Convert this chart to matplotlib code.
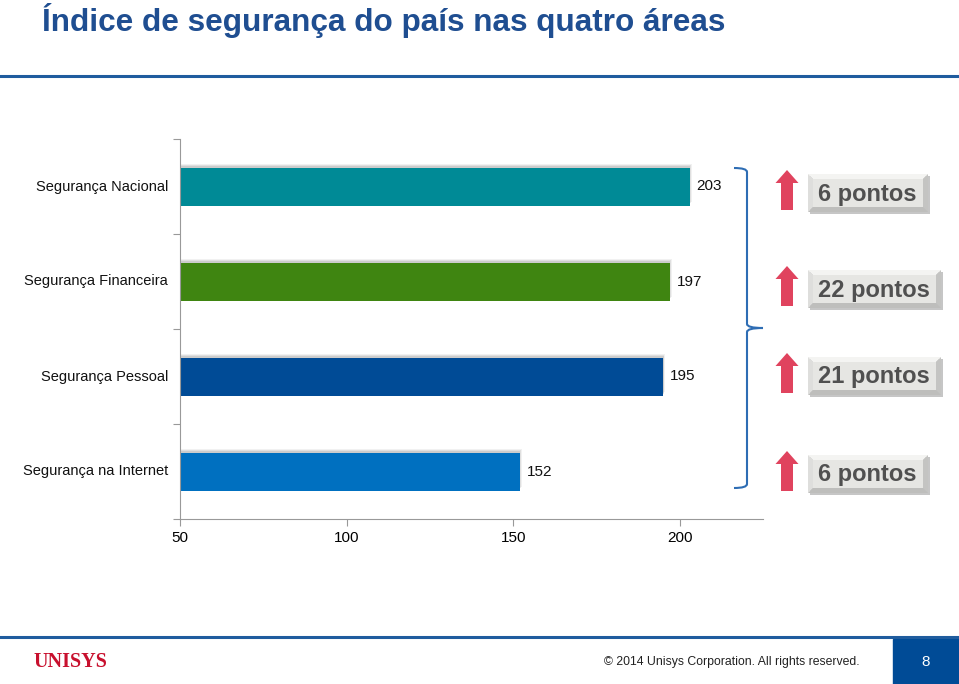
import matplotlib
matplotlib.use("Agg")
import matplotlib.pyplot as plt
from matplotlib.patches import Rectangle, PathPatch, Polygon
from matplotlib.path import Path
import matplotlib.transforms as mtrans

plt.rcParams['font.family'] = ['Liberation Sans', 'DejaVu Sans']

categories = ["Segurança Nacional", "Segurança Financeira", "Segurança Pessoal", "Segurança na Internet"]
values = [203, 197, 195, 152]
increase = ["6 pontos", "22 pontos", "21 pontos", "6 pontos"]
colors = ["#008A96", "#3F8511", "#004B96", "#0070C0"]
xticks = [50, 100, 150, 200]
title = "Índice de segurança do país nas quatro áreas"

W, H = 959, 684
fig = plt.figure(figsize=(W / 100, H / 100), dpi=100)

def fx(px):
    return px / W

def fy(py):
    return 1 - py / H

ax = fig.add_axes([fx(180), fy(519), fx(763) - fx(180), fy(139) - fy(519)])
ypos = list(range(len(categories)))
ax.set_xlim(50, 225)
ax.set_ylim(len(categories) - 0.5, -0.5)

# soft shadows
for y, v in zip(ypos, values):
    for k, a in enumerate([0.10, 0.14, 0.18]):
        d = 0.035 - k * 0.01
        ax.barh(y - d, v - 50 + 0.6 - k * 0.2, left=50, height=0.4, color="#777777",
                alpha=a, zorder=1, lw=0)
ax.barh(ypos, [v - 50 for v in values], left=50, height=0.4, color=colors, zorder=2)
for y, v in zip(ypos, values):
    ax.text(v + 2, y, str(v), va="center", ha="left", fontsize=11, color="#111111")

ax.set_yticks([y + 0.5 for y in [-1] + ypos])
ax.set_yticklabels([])
ax.tick_params(axis="y", length=5, direction="out", color="#999999")
lab_tr = mtrans.blended_transform_factory(ax.transAxes, ax.transData)
for y, c in zip(ypos, categories):
    ax.text(-12 / 583, y, c, transform=lab_tr, ha="right", va="center", fontsize=10.5, color="#111111")
ax.set_xticks(xticks)
ax.set_xticklabels([str(t) for t in xticks], fontsize=11)
ax.tick_params(axis="x", length=5, direction="out", color="#999999", pad=4)
for s in ["top", "right"]:
    ax.spines[s].set_visible(False)
for s in ["left", "bottom"]:
    ax.spines[s].set_color("#999999")

# title and rules
fig.text(fx(42), fy(20), title, fontsize=22.7, fontweight="bold", color="#1F4E91",
         ha="left", va="center")
fig.add_artist(plt.Line2D([0, 1], [fy(76), fy(76)], color="#1F5C9E", lw=2.2))
fig.add_artist(plt.Line2D([0, 1], [fy(637), fy(637)], color="#1F5C9E", lw=2.2))
fig.add_artist(Rectangle((fx(893), 0), 1 - fx(893), fy(639), color="#004B96"))
fig.text(fx(926), fy(662), "8", color="white", fontsize=11, ha="center", va="center")
fig.text(fx(860), fy(662), "© 2014 Unisys Corporation. All rights reserved.", fontsize=8.8,
         ha="right", va="center", color="#222222")
fig.text(fx(33), fy(662), "UNISYS", fontsize=14.5, fontweight="bold", family="Liberation Serif",
         color="#C8102E", ha="left", va="center")

# brace
bx0, bx1, bxm = fx(734), fx(747), fx(763)
ytop, ybot, ymid = fy(168), fy(488), fy(328)
e = 4 / H
verts = [(bx0, ytop), (bx1, ytop), (bx1, ytop - e), (bx1, ymid + e), (bx1, ymid), (bxm, ymid),
         (bx1, ymid), (bx1, ymid - e), (bx1, ybot + e), (bx1, ybot), (bx0, ybot)]
codes = [Path.MOVETO, Path.CURVE3, Path.CURVE3, Path.LINETO, Path.CURVE3, Path.CURVE3,
         Path.CURVE3, Path.CURVE3, Path.LINETO, Path.CURVE3, Path.CURVE3]
fig.add_artist(PathPatch(Path(verts, codes), fill=False, edgecolor="#2E6DB4", lw=1.5))

# arrows and bevelled boxes (pixel geometry of the reference slide)
box_tops = [174, 270, 357, 455]
for txt, top in zip(increase, box_tops):
    ac = 787
    at, ab = top - 4, top + 36
    arrow = [(ac - 6, ab), (ac - 6, at + 13), (ac - 11.5, at + 13), (ac, at), (ac + 11.5, at + 13),
             (ac + 6, at + 13), (ac + 6, ab)]
    fig.add_artist(Polygon([(fx(px), fy(py)) for px, py in arrow], closed=True,
                           facecolor="#E0435E", edgecolor="none"))
    wpx = 120 if len(txt) < 9 else 133
    l, r, t, b = 808, 808 + wpx, top, top + 38
    i = 5
    fig.add_artist(Polygon([(fx(l + 2), fy(b + 2)), (fx(r + 2), fy(b + 2)), (fx(r + 2), fy(t + 2)),
                            (fx(l + 2), fy(t + 2))], closed=True, facecolor="#A0A0A0",
                           edgecolor="none", alpha=0.6))
    faces = [
        ([(l, t), (r, t), (r - i, t + i), (l + i, t + i)], "#F4F4F2"),
        ([(l, t), (l + i, t + i), (l + i, b - i), (l, b)], "#DEDEDC"),
        ([(r, t), (r, b), (r - i, b - i), (r - i, t + i)], "#C4C4C2"),
        ([(l, b), (r, b), (r - i, b - i), (l + i, b - i)], "#BEBEBC"),
        ([(l + i, t + i), (r - i, t + i), (r - i, b - i), (l + i, b - i)], "#E6E6E3"),
    ]
    for pts, col in faces:
        fig.add_artist(Polygon([(fx(px), fy(py)) for px, py in pts], closed=True,
                               facecolor=col, edgecolor="none"))
    fig.text(fx(818), fy((t + b) / 2 + 1), txt, ha="left", va="center",
             fontsize=17, fontweight="bold", color="#505050")

fig.savefig("out.png", dpi=100)
